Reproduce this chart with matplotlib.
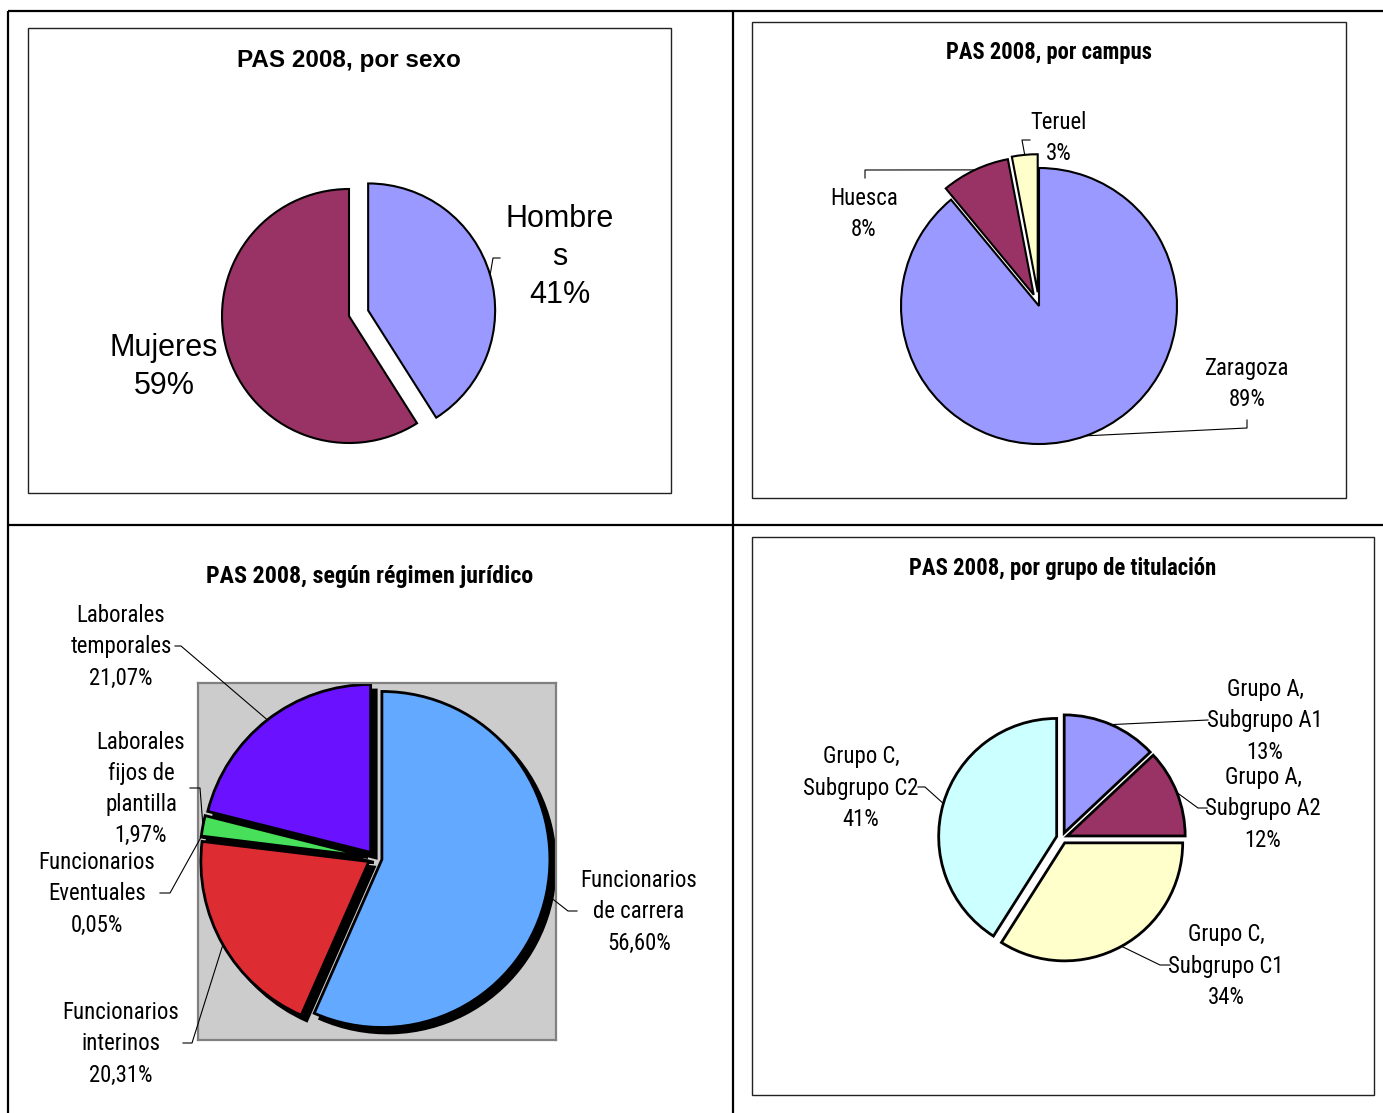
import numpy as np
import matplotlib
matplotlib.use('Agg')
import matplotlib.pyplot as plt
from matplotlib import font_manager
from matplotlib.patches import Rectangle

W, H = 1383, 1113

# --- data ---
sexo_names = ['Hombre\ns', 'Mujeres']
sexo_vals = [41, 59]
sexo_colors = ['#9999FF', '#993366']

campus_names = ['Zaragoza', 'Huesca', 'Teruel']
campus_vals = [89, 8, 3]
campus_colors = ['#9999FF', '#993366', '#FFFFCC']

regimen_names = ['Funcionarios\nde carrera', 'Funcionarios\ninterinos',
                 'Funcionarios\nEventuales', 'Laborales\nfijos de\nplantilla',
                 'Laborales\ntemporales']
regimen_vals = [56.60, 20.31, 0.05, 1.97, 21.07]
regimen_colors = ['#63A9FF', '#DD2C32', '#FFFFFF', '#48E05A', '#6A12FF']

grupo_names = ['Grupo A,\nSubgrupo A1', 'Grupo A,\nSubgrupo A2',
               'Grupo C,\nSubgrupo C1', 'Grupo C,\nSubgrupo C2']
grupo_vals = [13, 12, 34, 41]
grupo_colors = ['#9999FF', '#993366', '#FFFFCC', '#CCFFFF']

# fonts: Arial -> Liberation Sans, Arial Narrow -> a condensed sans if there is one
ARIAL = 'Liberation Sans'
narrow = dict(family='Liberation Sans')
scale = 0.86
prefs = ['Liberation Sans Narrow', 'Roboto Condensed', 'Open Sans Condensed',
         'Noto Sans Condensed', 'DejaVu Sans Condensed']
fl = font_manager.fontManager.ttflist
names = {f.name for f in fl}
found = [p for p in prefs if p in names]
if found:
    narrow = dict(family=found[0])
    scale = 1.0
else:
    cond = [f for f in fl if str(f.stretch) in ('condensed', 'semi-condensed', '500', '375')
            and 'Mono' not in f.name and 'Serif' not in f.name]
    if cond:
        narrow = dict(family=cond[0].name, fontstretch='condensed')
        scale = 0.95

fig = plt.figure(figsize=(W / 100, H / 100), dpi=100)

# background: table grid and chart frames
bg = fig.add_axes([0, 0, 1, 1])
bg.set_xlim(0, W)
bg.set_ylim(H, 0)
bg.axis('off')
for xs, ys in [([8, W], [11, 11]), ([8, W], [525, 525]),
               ([8, 8], [11, H]), ([733, 733], [11, H])]:
    bg.plot(xs, ys, color='black', lw=1.6, solid_capstyle='butt')
for x0, y0, x1, y1 in [(28, 28, 671, 493), (752, 22, 1346, 498), (752, 537, 1374, 1095)]:
    bg.add_patch(Rectangle((x0, y0), x1 - x0, y1 - y0, fill=False, ec='#222222', lw=1))


def make_ax(cx, cy, r, rect=None):
    if rect is None:
        rect = (cx - 1.4 * r, cy - 1.4 * r, cx + 1.4 * r, cy + 1.4 * r)
    x0, y0, x1, y1 = rect
    ax = fig.add_axes([x0 / W, 1 - y1 / H, (x1 - x0) / W, (y1 - y0) / H])
    lims = ((x0 - cx) / r, (x1 - cx) / r, (cy - y1) / r, (cy - y0) / r)
    return ax, lims


def draw_pie(ax, lims, vals, colors, explode, lw=1.5, center=(0, 0)):
    wedges, _ = ax.pie(vals, colors=colors, explode=explode, startangle=90,
                       counterclock=False, center=center,
                       wedgeprops=dict(edgecolor='black', linewidth=lw))
    ax.set_xlim(lims[0], lims[1])
    ax.set_ylim(lims[2], lims[3])
    return wedges


# panel 1: por sexo
ax1, l1 = make_ax(349, 316, 127)
ax1.axis('off')
w1 = draw_pie(ax1, l1, sexo_vals, sexo_colors, [0.157, 0])

# panel 2: por campus
ax2, l2 = make_ax(1039, 306, 138)
ax2.axis('off')
w2 = draw_pie(ax2, l2, campus_vals, campus_colors, [0, 0.09, 0.1])

# panel 3: regimen juridico (gray plot area + shadow)
ax3, l3 = make_ax(375, 858, 168, rect=(198, 683, 556, 1040))
draw_pie(ax3, l3, regimen_vals, ['black'] * 5, [0.042] * 5, lw=2, center=(0.033, -0.033))
w3 = draw_pie(ax3, l3, regimen_vals, regimen_colors, [0.042] * 5, lw=2)
ax3.set_frame_on(True)
ax3.set_facecolor('#CCCCCC')
ax3.set_xticks([])
ax3.set_yticks([])
for s in ax3.spines.values():
    s.set_color('#808080')
    s.set_linewidth(1.6)

# panel 4: grupo de titulacion
ax4, l4 = make_ax(1062, 838, 118)
ax4.axis('off')
w4 = draw_pie(ax4, l4, grupo_vals, grupo_colors, [0.047] * 4, lw=2)

# overlay for labels and leader lines
fg = fig.add_axes([0, 0, 1, 1])
fg.set_xlim(0, W)
fg.set_ylim(H, 0)
fg.axis('off')


def rim(ax, w):
    a = np.deg2rad((w.theta1 + w.theta2) / 2)
    p = (w.center[0] + w.r * np.cos(a), w.center[1] + w.r * np.sin(a))
    return fg.transData.inverted().transform(ax.transData.transform(p))


def leader(ax, w, pts):
    x0, y0 = rim(ax, w)
    fg.plot([x0] + [p[0] for p in pts], [y0] + [p[1] for p in pts],
            color='black', lw=0.8)


def pct(v, dec=0):
    return ('{:.%df}%%' % dec).format(v).replace('.', ',')


# titles
fg.text(349, 61, 'PAS 2008, por sexo', ha='center', va='center',
        fontsize=17.5, fontweight='bold', family=ARIAL)
for x, y, t, fs in [(1049, 52, 'PAS 2008, por campus', 16.3),
                    (370, 577, 'PAS 2008, según régimen jurídico', 17.3),
                    (1063, 568, 'PAS 2008, por grupo de titulación', 16.4)]:
    fg.text(x, y, t, ha='center', va='center', fontsize=fs * scale,
            fontweight='bold', **narrow)

# panel 1 labels
big = dict(ha='center', va='center', fontsize=22, family=ARIAL, linespacing=1.33)
fg.text(560, 257, sexo_names[0] + '\n' + pct(sexo_vals[0]), **big)
fg.text(164, 367, sexo_names[1] + '\n' + pct(sexo_vals[1]), **big)
leader(ax1, w1[0], [(493, 258), (500, 258)])

# panel 2-4 label style
lab = dict(ha='center', va='center', fontsize=16.4 * scale,
           linespacing=1.45 / scale, **narrow)

pos2 = [(1247, 384), (864, 214), (1059, 138)]
for (x, y), n, v in zip(pos2, campus_names, campus_vals):
    fg.text(x, y, n + '\n' + pct(v), **lab)
leader(ax2, w2[0], [(1247, 428), (1247, 420)])
leader(ax2, w2[1], [(865, 170), (865, 178)])
leader(ax2, w2[2], [(1022, 140), (1030, 140)])

pos3 = [(639, 912), (121, 1044), (97, 894), (141, 789), (121, 647)]
for (x, y), n, v in zip(pos3, regimen_names, regimen_vals):
    fg.text(x, y, n + '\n' + pct(v, 2), **lab)
leader(ax3, w3[0], [(568, 911), (577, 911)])
leader(ax3, w3[1], [(192, 1043), (183, 1043)])
leader(ax3, w3[2], [(170, 893), (160, 893)])
leader(ax3, w3[3], [(200, 788), (190, 788)])
leader(ax3, w3[4], [(181, 646), (175, 646)])

pos4 = [(1265, 721), (1263, 809), (1226, 966), (861, 788)]
for (x, y), n, v in zip(pos4, grupo_names, grupo_vals):
    fg.text(x, y, n + '\n' + pct(v), **lab)
leader(ax4, w4[0], [(1208, 720)])
leader(ax4, w4[1], [(1198, 808), (1207, 808)])
leader(ax4, w4[2], [(1160, 965), (1170, 965)])
leader(ax4, w4[3], [(925, 787), (918, 787)])

fig.savefig('out.png', dpi=100)
